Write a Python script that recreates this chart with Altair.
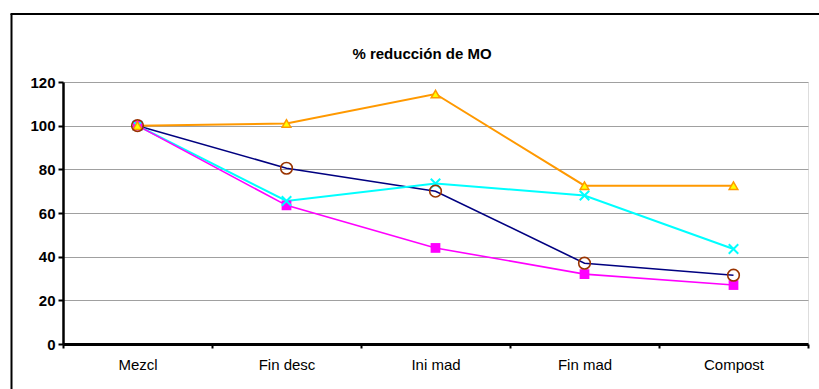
import altair as alt
import pandas as pd

categories = ["Mezcl", "Fin desc", "Ini mad", "Fin mad", "Compost"]
serie_naranja = [100, 101, 114.5, 72.5, 72.5]
serie_azul = [100, 80.5, 70, 37, 31.5]
serie_cian = [100, 65.5, 73.5, 68, 43.5]
serie_magenta = [100, 63.5, 44, 32, 27]
y_ticks = [0, 20, 40, 60, 80, 100, 120]
titulo = "% reducción de MO"

FONT = "Liberation Sans"


def frame(vals):
    return pd.DataFrame({"cat": categories, "v": vals})


x_enc = alt.X(
    "cat:N",
    sort=categories,
    scale=alt.Scale(domain=categories, paddingInner=0, paddingOuter=0),
    axis=alt.Axis(
        title=None, labelAngle=0, tickBand="extent", domainColor="black",
        domainWidth=3, tickColor="black", tickWidth=2, tickSize=4,
        labelFont=FONT, labelFontSize=15, labelColor="black", labelPadding=9,
        grid=False,
    ),
)
y_enc = alt.Y(
    "v:Q",
    scale=alt.Scale(domain=[0, 120], nice=False, zero=True),
    axis=alt.Axis(
        title=None, values=y_ticks, grid=True, gridColor="#a0a0a0", gridWidth=1,
        domainColor="black", domainWidth=2.5, tickColor="black", tickWidth=2,
        tickSize=5, labelFont=FONT, labelFontSize=15, labelFontWeight="bold",
        labelColor="black", labelPadding=3,
    ),
)


def line(vals, color, w):
    return alt.Chart(frame(vals)).mark_line(color=color, strokeWidth=w).encode(x=x_enc, y=y_enc)


def points(vals, **kw):
    return alt.Chart(frame(vals)).mark_point(opacity=1, **kw).encode(x=x_enc, y=y_enc)


one = pd.DataFrame({"a": [0]})
border_left = alt.Chart(one).mark_rule(color="black", strokeWidth=2, clip=False).encode(
    x=alt.value(-51.5), y=alt.value(-68), y2=alt.value(330)
)
border_top = alt.Chart(one).mark_rule(color="black", strokeWidth=2, clip=False).encode(
    x=alt.value(-52.5), x2=alt.value(780), y=alt.value(-68)
)
title_mark = alt.Chart(one).mark_text(
    font=FONT, fontSize=15, fontWeight="bold", color="black",
    align="center", baseline="middle", clip=False,
).encode(x=alt.value(359), y=alt.value(-28), text=alt.value(titulo))

xshape = "M-1,-1L1,1M-1,1L1,-1"

chart = alt.layer(
    line(serie_naranja, "#FF9900", 2),
    line(serie_azul, "#000080", 1.6),
    line(serie_cian, "#00FFFF", 2),
    line(serie_magenta, "#FF00FF", 1.6),
    points(serie_magenta, shape="square", filled=True, color="#FF00FF", size=95),
    points(serie_cian, shape=xshape, filled=False, color="#00FFFF", strokeWidth=2, size=90),
    points(serie_naranja, shape="triangle-up", filled=True, fill="#FFFF00",
           stroke="#FF9900", strokeWidth=1.5, size=75),
    points(serie_azul, shape="circle", filled=False, color="#993300", strokeWidth=1.6, size=135),
    border_left,
    border_top,
    title_mark,
).properties(
    width=745,
    height=262,
    autosize=alt.AutoSizeParams(type="none"),
    padding={"left": 63, "top": 82, "right": 11, "bottom": 45},
).configure_view(stroke=None).configure(background="white")

chart.save("out.html", embed_options={"renderer": "svg", "actions": False})
